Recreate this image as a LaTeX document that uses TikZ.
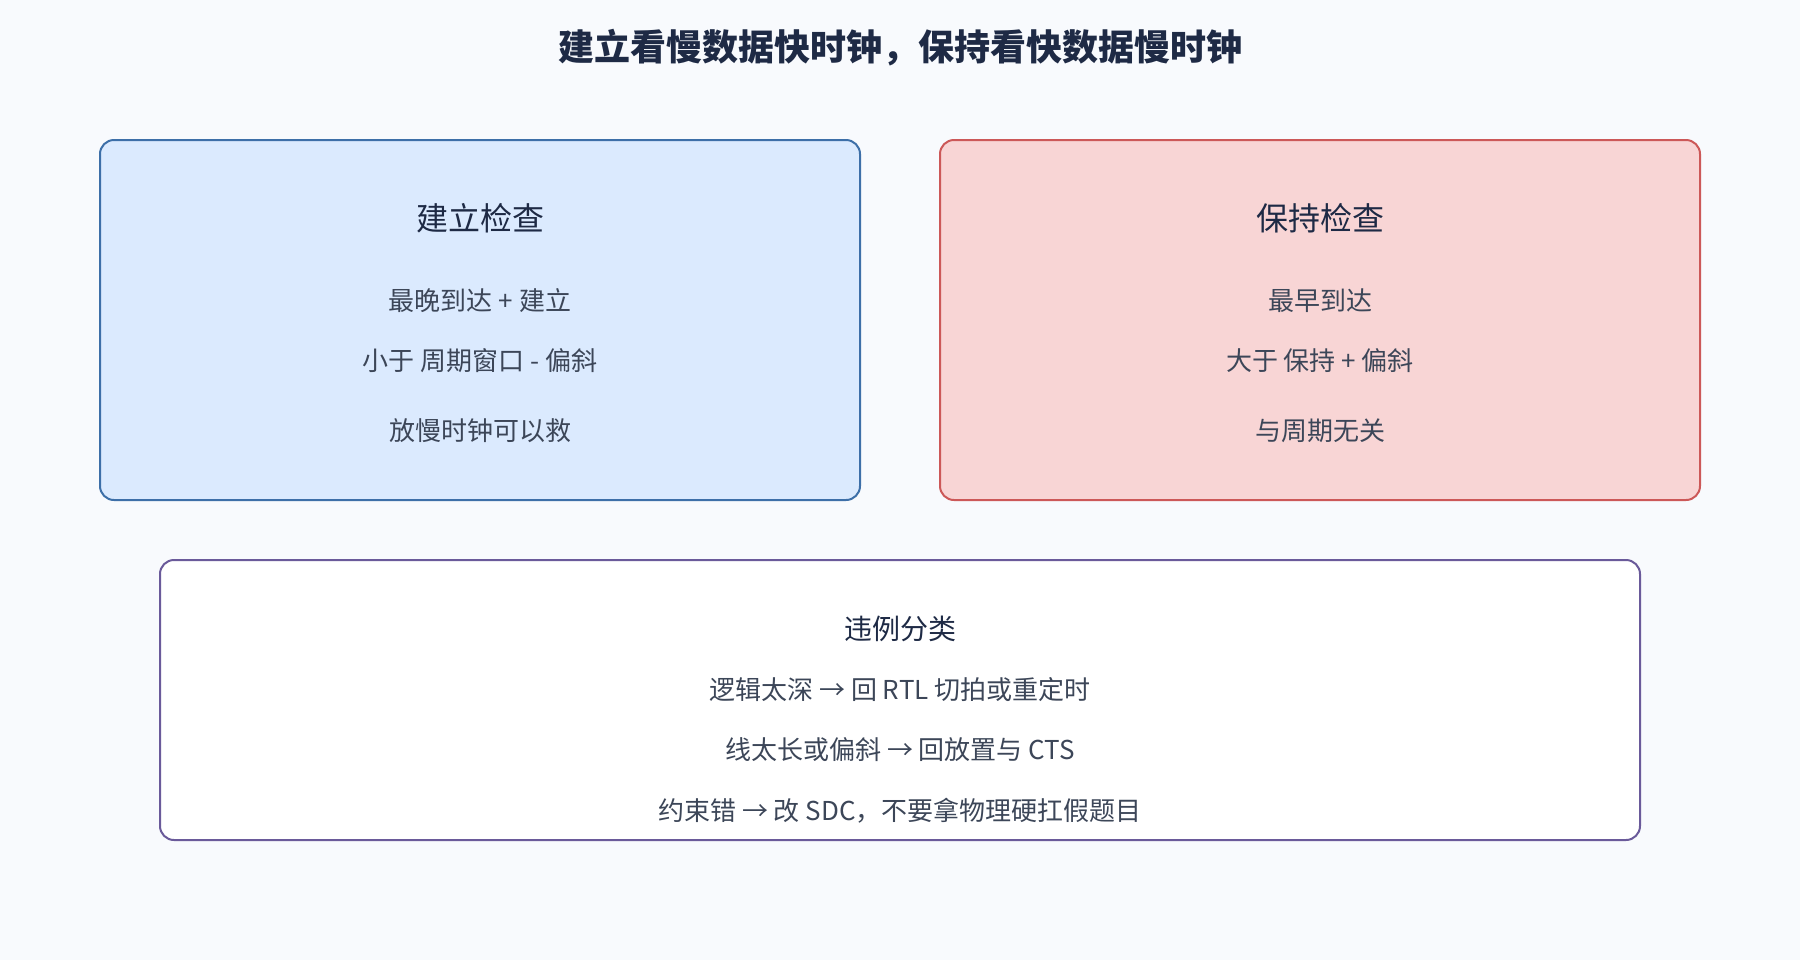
\documentclass[tikz,border=0pt]{standalone}
\usepackage{fontspec}
\setmainfont{Noto Sans CJK SC}
\usepackage{xcolor}
\usetikzlibrary{shapes}

\definecolor{pagebg}{HTML}{F8FAFD}
\definecolor{titleink}{HTML}{1E2A45}
\definecolor{bodyink}{HTML}{3C4658}
\definecolor{setupfill}{HTML}{DBEAFE}
\definecolor{setupline}{HTML}{3D6FA8}
\definecolor{holdfill}{HTML}{F8D5D5}
\definecolor{holdline}{HTML}{CC5858}
\definecolor{sortline}{HTML}{6A5A9A}

\tikzset{
    panel/.style={draw, line width=1pt, rounded corners=7pt, inner sep=0pt},
    headtext/.style={text=titleink, font=\fontsize{16pt}{19pt}\selectfont},
    bodytext/.style={text=bodyink, font=\fontsize{13pt}{16pt}\selectfont},
}

\begin{document}
\begin{tikzpicture}[x=0.5pt, y=-0.5pt]

    \fill[pagebg] (0,0) rectangle (1800,960);
    \useasboundingbox (0,0) rectangle (1800,960);

    \node[text=titleink, font=\fontsize{18pt}{22pt}\selectfont\bfseries] (title) at (900,48) {建立看慢数据快时钟，保持看快数据慢时钟};
%____________________________________________________________________________________________________
    \node[panel, draw=setupline, fill=setupfill, minimum width=380pt, minimum height=180pt] (setupbox) at (480,320) {};
    \node[headtext] (setuphead) at (480,218) {建立检查};
    \node[bodytext] (setupone) at (480,301) {最晚到达 + 建立};
    \node[bodytext] (setuptwo) at (480,361) {小于 周期窗口 - 偏斜};
    \node[bodytext] (setupthree) at (480,431) {放慢时钟可以救};
%____________________________________________________________________________________________________
    \node[panel, draw=holdline, fill=holdfill, minimum width=380pt, minimum height=180pt] (holdbox) at (1320,320) {};
    \node[headtext] (holdhead) at (1320,218) {保持检查};
    \node[bodytext] (holdone) at (1320,301) {最早到达};
    \node[bodytext] (holdtwo) at (1320,361) {大于 保持 + 偏斜};
    \node[bodytext] (holdthree) at (1320,431) {与周期无关};
%____________________________________________________________________________________________________
    \node[panel, draw=sortline, fill=white, minimum width=740pt, minimum height=140pt] (sortbox) at (900,700) {};
    \node[headtext, font=\fontsize{14pt}{17pt}\selectfont] (sorthead) at (900,629) {违例分类};
    \node[bodytext] (sortone) at (900,690) {逻辑太深 → 回 RTL 切拍或重定时};
    \node[bodytext] (sorttwo) at (900,750) {线太长或偏斜 → 回放置与 CTS};
    \node[bodytext] (sortthree) at (900,811) {约束错 → 改 SDC，不要拿物理硬扛假题目};

\end{tikzpicture}
\end{document}
